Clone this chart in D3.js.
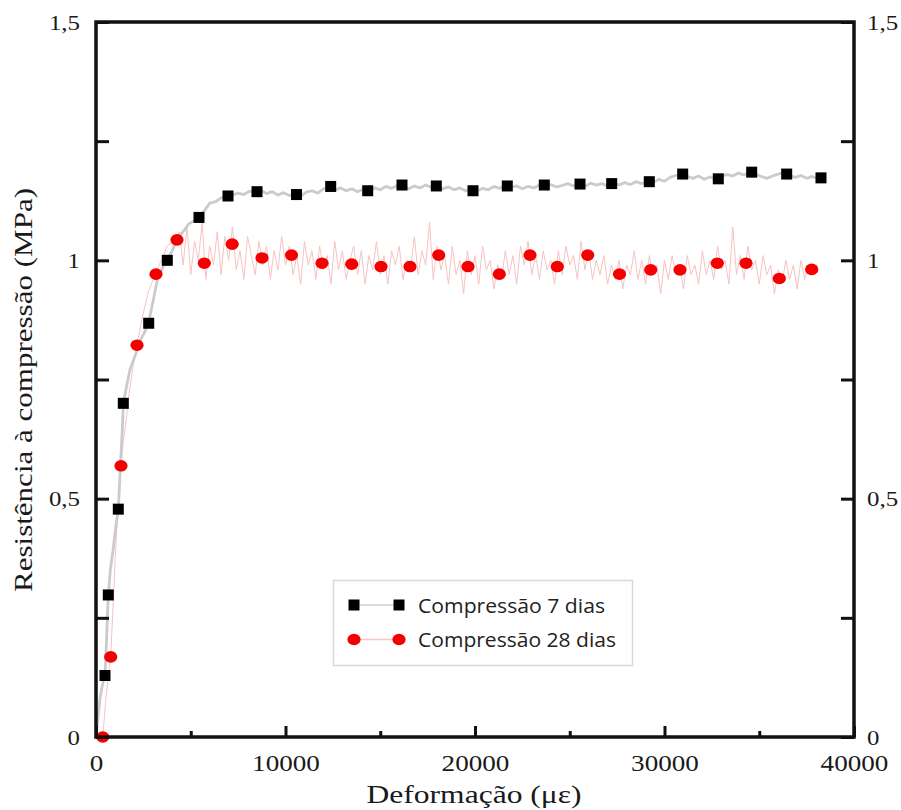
<!DOCTYPE html>
<html>
<head>
<meta charset="utf-8">
<script src="https://cdn.jsdelivr.net/npm/d3@7/dist/d3.min.js"></script>
<style>
  html, body { margin: 0; padding: 0; background: #fff; }
  svg { display: block; }
</style>
</head>
<body>
<svg id="chart" width="901" height="810"></svg>
<script>
// Marker samples: compression after 7 days
const strain7 = [475, 649, 1177, 1441, 2781, 3762, 5435, 6966, 8496, 10581, 12385, 14338, 16148, 17958, 19894, 21704, 23657, 25541, 27213, 29198, 30960, 32839, 34601, 36448, 38258];
const stress7 = [0.129, 0.298, 0.478, 0.700, 0.868, 1.000, 1.090, 1.135, 1.144, 1.138, 1.155, 1.146, 1.158, 1.156, 1.146, 1.156, 1.158, 1.160, 1.161, 1.165, 1.181, 1.171, 1.185, 1.181, 1.173];

// Marker samples: compression after 28 days
const strain28 = [354, 776, 1319, 2164, 3166, 4274, 5715, 7187, 8760, 10317, 11926, 13494, 15040, 16570, 18085, 19631, 21283, 22903, 24343, 25948, 27626, 29272, 30818, 32787, 34301, 36058, 37768];
const stress28 = [0.000, 0.168, 0.569, 0.822, 0.971, 1.043, 0.994, 1.034, 1.005, 1.011, 0.994, 0.992, 0.987, 0.987, 1.011, 0.987, 0.971, 1.011, 0.987, 1.011, 0.971, 0.980, 0.980, 0.994, 0.994, 0.962, 0.981];

// Continuous recorded curve, 7 days [strain, stress]
const trace7 = [
  [0, 0.000], [90, 0.035], [200, 0.078], [300, 0.101], [380, 0.116], [475, 0.131], [540, 0.188], [600, 0.252],
  [650, 0.296], [760, 0.352], [900, 0.392], [1050, 0.443], [1180, 0.476], [1280, 0.562], [1380, 0.638], [1450, 0.702],
  [1600, 0.733], [1800, 0.772], [2050, 0.798], [2350, 0.833], [2600, 0.852], [2780, 0.870], [3000, 0.912], [3250, 0.962],
  [3500, 0.983], [3760, 1.002], [4000, 1.018], [4300, 1.047], [4600, 1.060], [4900, 1.077], [5200, 1.083], [5435, 1.094],
  [5700, 1.103], [6000, 1.120], [6300, 1.123], [6650, 1.132], [6966, 1.134],
  [7200, 1.137], [7500, 1.141], [7800, 1.138], [8100, 1.145], [8400, 1.142], [8700, 1.147], [9000, 1.140], [9300, 1.144],
  [9600, 1.137], [9900, 1.142], [10200, 1.136], [10500, 1.140], [10800, 1.135], [11100, 1.143], [11400, 1.146], [11700, 1.141],
  [12000, 1.150], [12300, 1.153], [12600, 1.147], [12900, 1.152], [13200, 1.146], [13500, 1.150], [13800, 1.144], [14100, 1.149],
  [14400, 1.146], [14700, 1.152], [15000, 1.148], [15300, 1.155], [15600, 1.151], [15900, 1.157], [16200, 1.155], [16500, 1.150],
  [16800, 1.156], [17100, 1.152], [17400, 1.158], [17700, 1.153], [18000, 1.156], [18300, 1.150], [18600, 1.154], [18900, 1.148],
  [19200, 1.152], [19500, 1.146], [19800, 1.149], [20100, 1.145], [20400, 1.151], [20700, 1.148], [21000, 1.155], [21300, 1.151],
  [21600, 1.157], [21900, 1.153], [22200, 1.156], [22500, 1.150], [22800, 1.155], [23100, 1.152], [23400, 1.158], [23700, 1.155],
  [24000, 1.159], [24300, 1.154], [24600, 1.157], [24900, 1.161], [25200, 1.156], [25500, 1.160], [25800, 1.155], [26100, 1.162],
  [26400, 1.158], [26700, 1.161], [27000, 1.156], [27300, 1.162], [27600, 1.158], [27900, 1.163], [28200, 1.159], [28500, 1.165],
  [28800, 1.161], [29100, 1.166], [29400, 1.163], [29700, 1.170], [30000, 1.166], [30300, 1.174], [30600, 1.178], [30900, 1.181],
  [31200, 1.176], [31500, 1.172], [31800, 1.177], [32100, 1.170], [32400, 1.175], [32700, 1.171], [33000, 1.176], [33300, 1.180],
  [33600, 1.177], [33900, 1.183], [34200, 1.179], [34500, 1.185], [34800, 1.181], [35100, 1.176], [35400, 1.172], [35700, 1.177],
  [36000, 1.181], [36300, 1.184], [36600, 1.178], [36900, 1.174], [37200, 1.178], [37500, 1.172], [37800, 1.176], [38100, 1.171],
  [38400, 1.174]
];

// Continuous recorded curve, 28 days [strain, stress]
const trace28 = [
  [300, 0.000], [354, 0.000], [420, 0.030], [500, 0.072], [600, 0.108], [700, 0.147], [776, 0.168], [850, 0.232],
  [930, 0.298], [1010, 0.372], [1100, 0.438], [1200, 0.512], [1320, 0.569], [1450, 0.622], [1600, 0.668], [1750, 0.722],
  [1900, 0.763], [2050, 0.802], [2164, 0.822], [2350, 0.862], [2550, 0.898], [2750, 0.932], [2950, 0.953], [3166, 0.971],
  [3350, 0.992], [3550, 1.008], [3750, 1.031], [4000, 1.038], [4274, 1.043],
  [4400, 1.06], [4600, 0.99], [4800, 1.07], [5000, 0.97], [5200, 1.04], [5400, 1.00], [5600, 1.08], [5800, 0.96],
  [6000, 1.03], [6200, 0.99], [6400, 1.06], [6600, 0.97], [6800, 1.05], [7000, 1.00], [7200, 1.07], [7400, 0.98],
  [7600, 1.02], [7800, 0.96], [8000, 1.05], [8200, 1.01], [8400, 0.97], [8600, 1.04], [8800, 0.99], [9000, 1.03],
  [9200, 0.96], [9400, 1.02], [9600, 0.98], [9800, 1.05], [10000, 0.99], [10200, 1.03], [10400, 0.97], [10600, 1.01],
  [10800, 0.95], [11000, 1.04], [11200, 0.99], [11400, 1.02], [11600, 0.96], [11800, 1.03], [12000, 0.98], [12200, 1.01],
  [12400, 0.95], [12600, 1.04], [12800, 0.98], [13000, 1.02], [13200, 0.96], [13400, 1.00], [13600, 1.03], [13800, 0.97],
  [14000, 1.02], [14200, 0.95], [14400, 1.01], [14600, 0.98], [14800, 1.04], [15000, 0.97], [15200, 1.01], [15400, 0.95],
  [15600, 1.02], [15800, 0.99], [16000, 1.03], [16200, 0.96], [16400, 1.00], [16600, 0.98], [16800, 1.05], [17000, 0.97],
  [17200, 1.02], [17400, 0.99], [17600, 1.08], [17800, 0.96], [18000, 1.03], [18200, 0.98], [18400, 1.01], [18600, 0.95],
  [18800, 1.03], [19000, 0.97], [19200, 1.00], [19400, 0.93], [19600, 1.02], [19800, 0.97], [20000, 1.01], [20200, 0.95],
  [20400, 1.03], [20600, 0.98], [20800, 1.00], [21000, 0.94], [21200, 0.99], [21400, 0.96], [21600, 1.02], [21800, 0.97],
  [22000, 1.01], [22200, 0.95], [22400, 1.03], [22600, 0.99], [22800, 1.04], [23000, 0.97], [23200, 1.01], [23400, 0.96],
  [23600, 1.02], [23800, 0.98], [24000, 1.00], [24200, 0.95], [24400, 1.02], [24600, 0.97], [24800, 1.03], [25000, 0.99],
  [25200, 1.01], [25400, 0.96], [25600, 1.04], [25800, 0.98], [26000, 1.02], [26200, 0.96], [26400, 1.00], [26600, 0.97],
  [26800, 1.01], [27000, 0.95], [27200, 0.99], [27400, 0.96], [27600, 1.00], [27800, 0.94], [28000, 0.99], [28200, 0.97],
  [28400, 1.02], [28600, 0.96], [28800, 1.00], [29000, 0.95], [29200, 1.01], [29400, 0.97], [29600, 0.99], [29800, 0.93],
  [30000, 1.00], [30200, 0.96], [30400, 1.01], [30600, 0.97], [30800, 0.99], [31000, 0.94], [31200, 1.01], [31400, 0.97],
  [31600, 0.99], [31800, 0.95], [32000, 1.02], [32200, 0.97], [32400, 1.00], [32600, 0.96], [32800, 1.03], [33000, 0.98],
  [33200, 1.00], [33400, 0.95], [33600, 1.07], [33800, 0.97], [34000, 1.01], [34200, 0.96], [34400, 1.03], [34600, 0.98],
  [34800, 1.00], [35000, 0.95], [35200, 1.01], [35400, 0.97], [35600, 0.99], [35800, 0.93], [36000, 0.98], [36200, 0.95],
  [36400, 1.00], [36600, 0.96], [36800, 0.99], [37000, 0.94], [37200, 1.00], [37400, 0.96], [37600, 0.99], [37800, 0.97],
  [38000, 0.98]
];

// Axis ticks and labels
const xMajorTicks = [0, 10000, 20000, 30000, 40000];
const xMinorTicks = [5000, 15000, 25000, 35000];
const yTicks = [0, 0.25, 0.5, 0.75, 1, 1.25, 1.5];
const yLabelled = [0, 0.5, 1, 1.5];

const seriesNames = ["Compressão 7 dias", "Compressão 28 dias"];
const xTitle = "Deformação (με)";
const yTitle = "Resistência à compressão (MPa)";

const svg = d3.select("#chart");
const serif = "'Liberation Serif', 'Times New Roman', serif";
const sans = "'Open Sans', 'Noto Sans', sans-serif";
const ink = "#111";

const x = d3.scaleLinear().domain([0, 40000]).range([96, 854]);
const y = d3.scaleLinear().domain([0, 1.5]).range([737, 22]);

const fmtY = d => yLabelled.includes(d) ? String(d).replace(".", ",") : "";

// Recorded curves (drawn beneath the markers)
const line = d3.line().x(d => x(d[0])).y(d => y(d[1]));
svg.append("path").datum(trace28)
  .attr("d", line).attr("fill", "none")
  .attr("stroke", "#f8c2c2").attr("stroke-width", 1).attr("stroke-linejoin", "round");
svg.append("path").datum(trace7)
  .attr("d", line).attr("fill", "none")
  .attr("stroke", "#cbcbcb").attr("stroke-width", 2.8).attr("stroke-linejoin", "round");

// Markers
const sq = 11;
svg.append("g").selectAll("rect").data(strain7.map((s, i) => [s, stress7[i]])).join("rect")
  .attr("x", d => x(d[0]) - sq / 2).attr("y", d => y(d[1]) - sq / 2)
  .attr("width", sq).attr("height", sq).attr("fill", "#000");
svg.append("g").selectAll("ellipse").data(strain28.map((s, i) => [s, stress28[i]])).join("ellipse")
  .attr("cx", d => x(d[0])).attr("cy", d => y(d[1]))
  .attr("rx", 6.6).attr("ry", 5.8).attr("fill", "#f40000");

// Axes
function styleAxis(g) {
  g.select(".domain").remove();
  g.selectAll(".tick line").attr("stroke", ink).attr("stroke-width", 3);
  g.selectAll(".tick text").attr("fill", "#1a1a1a").attr("font-family", serif);
}

svg.append("g").attr("transform", `translate(0,${y(0)})`)
  .call(d3.axisBottom(x).tickValues(xMinorTicks).tickSize(-6).tickFormat(""))
  .call(styleAxis);
svg.append("g").attr("transform", `translate(0,${y(0)})`)
  .call(d3.axisBottom(x).tickValues(xMajorTicks).tickSize(-11).tickPadding(17).tickFormat(d => String(d)))
  .call(styleAxis)
  .call(g => g.selectAll(".tick text").attr("font-size", 24).attr("dy", "0.71em"));

svg.append("g").attr("transform", `translate(${x(0)},0)`)
  .call(d3.axisLeft(y).tickValues(yTicks).tickSize(-13).tickPadding(16).tickFormat(fmtY))
  .call(styleAxis)
  .call(g => g.selectAll(".tick text").attr("font-size", 22));
svg.append("g").attr("transform", `translate(${x(40000)},0)`)
  .call(d3.axisRight(y).tickValues(yTicks).tickSize(-13).tickPadding(13).tickFormat(fmtY))
  .call(styleAxis)
  .call(g => g.selectAll(".tick text").attr("font-size", 22));

// Frame
svg.append("rect")
  .attr("x", x(0)).attr("y", y(1.5))
  .attr("width", x(40000) - x(0)).attr("height", y(0) - y(1.5))
  .attr("fill", "none").attr("stroke", ink).attr("stroke-width", 3.5);

// Slightly widened tick labels
svg.selectAll(".tick text").each(function () {
  const w = this.getComputedTextLength();
  if (w > 0) d3.select(this).attr("textLength", w * 1.13).attr("lengthAdjust", "spacingAndGlyphs");
});

// Axis titles
svg.append("text").text(xTitle)
  .attr("x", 474).attr("y", 803).attr("text-anchor", "middle")
  .attr("font-family", serif).attr("font-size", 25).attr("fill", "#1a1a1a")
  .attr("textLength", 215).attr("lengthAdjust", "spacingAndGlyphs");
svg.append("text").text(yTitle)
  .attr("transform", "translate(32,390) rotate(-90)").attr("text-anchor", "middle")
  .attr("font-family", serif).attr("font-size", 25).attr("fill", "#1a1a1a")
  .attr("textLength", 404).attr("lengthAdjust", "spacingAndGlyphs");

// Legend
const legend = svg.append("g");
legend.append("rect")
  .attr("x", 333.5).attr("y", 580.5).attr("width", 299).attr("height", 85)
  .attr("fill", "#fff").attr("stroke", "#d8d8d8").attr("stroke-width", 1.5);
const rows = [
  { name: seriesNames[0], cy: 605, base: 613, len: 187, stroke: "#cfcfcf", kind: "square" },
  { name: seriesNames[1], cy: 639.5, base: 646.5, len: 198, stroke: "#f8c4c4", kind: "circle" }
];
rows.forEach(r => {
  legend.append("line").attr("x1", 354).attr("x2", 399).attr("y1", r.cy).attr("y2", r.cy)
    .attr("stroke", r.stroke).attr("stroke-width", 1.5);
  [354, 399].forEach(cx => {
    if (r.kind === "square") {
      legend.append("rect").attr("x", cx - sq / 2).attr("y", r.cy - sq / 2)
        .attr("width", sq).attr("height", sq).attr("fill", "#000");
    } else {
      legend.append("ellipse").attr("cx", cx).attr("cy", r.cy)
        .attr("rx", 6.6).attr("ry", 5.8).attr("fill", "#f40000");
    }
  });
  legend.append("text").text(r.name)
    .attr("x", 418).attr("y", r.base)
    .attr("font-family", sans).attr("font-size", 19.5).attr("fill", "#222")
    .attr("textLength", r.len).attr("lengthAdjust", "spacingAndGlyphs");
});
</script>
</body>
</html>
